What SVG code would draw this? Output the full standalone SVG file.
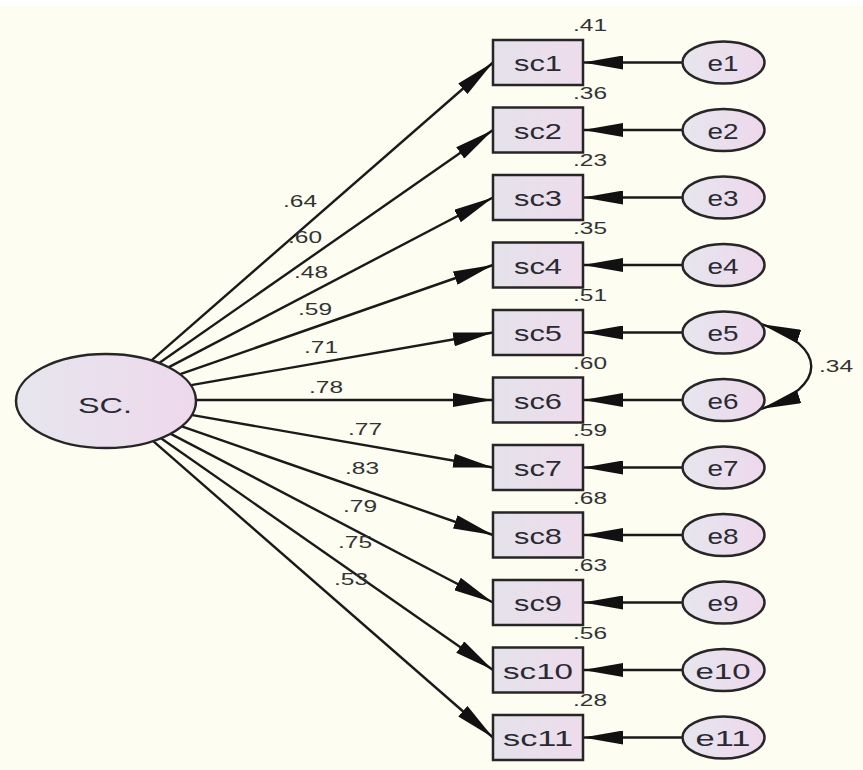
<svg xmlns="http://www.w3.org/2000/svg" width="863" height="770" viewBox="0 0 863 770">
<style>
.obs{stroke:#262626;stroke-width:2.5;fill:url(#gb)}
.lat{stroke:#262626;stroke-width:2.5;fill:url(#ge)}
.lbl{font-family:"Liberation Sans",Arial,sans-serif;font-size:22px;fill:#2a2a33;text-anchor:middle}
.num{font-family:"Liberation Sans",Arial,sans-serif;font-size:16px;fill:#333;text-anchor:middle}
.cn{stroke:#1a1a1a;stroke-width:2.4;fill:none}
</style>
<defs>
<linearGradient id="gb" x1="0" y1="0" x2="1" y2="0"><stop offset="0" stop-color="#e4e2ea"/><stop offset="1" stop-color="#eedcec"/></linearGradient>
<linearGradient id="ge" x1="0" y1="0" x2="1" y2="0"><stop offset="0" stop-color="#e6e6ee"/><stop offset="1" stop-color="#eed8ec"/></linearGradient>
<marker id="ah" viewBox="0 0 40 14" refX="40" refY="7" markerWidth="40" markerHeight="14" markerUnits="userSpaceOnUse" orient="auto-start-reverse"><path d="M0,0 L40,7 L0,14 z" fill="#111"/></marker>
</defs>
<rect width="863" height="770" fill="#fdfdf1"/>
<rect width="863" height="5" fill="#ffffff"/>
<g id="connectors">
<path class="cn" marker-end="url(#ah)" d="M151.5,360.3 L493,62.5"/>
<path class="cn" marker-end="url(#ah)" d="M159.2,362.9 L493,130"/>
<path class="cn" marker-end="url(#ah)" d="M168.9,367.1 L493,197.5"/>
<path class="cn" marker-end="url(#ah)" d="M180.3,374.1 L493,265"/>
<path class="cn" marker-end="url(#ah)" d="M191.2,385.1 L493,332.5"/>
<path class="cn" marker-end="url(#ah)" d="M196,400 L493,400"/>
<path class="cn" marker-end="url(#ah)" d="M191.2,414.9 L493,467.5"/>
<path class="cn" marker-end="url(#ah)" d="M180.3,425.9 L493,535"/>
<path class="cn" marker-end="url(#ah)" d="M168.9,432.9 L493,602.5"/>
<path class="cn" marker-end="url(#ah)" d="M159.2,437.1 L493,670"/>
<path class="cn" marker-end="url(#ah)" d="M151.5,439.7 L493,737.5"/>
<path class="cn" marker-end="url(#ah)" d="M682.5,62.5 L583,62.5"/>
<path class="cn" marker-end="url(#ah)" d="M682.5,130 L583,130"/>
<path class="cn" marker-end="url(#ah)" d="M682.5,197.5 L583,197.5"/>
<path class="cn" marker-end="url(#ah)" d="M682.5,265 L583,265"/>
<path class="cn" marker-end="url(#ah)" d="M682.5,332.5 L583,332.5"/>
<path class="cn" marker-end="url(#ah)" d="M682.5,400 L583,400"/>
<path class="cn" marker-end="url(#ah)" d="M682.5,467.5 L583,467.5"/>
<path class="cn" marker-end="url(#ah)" d="M682.5,535 L583,535"/>
<path class="cn" marker-end="url(#ah)" d="M682.5,602.5 L583,602.5"/>
<path class="cn" marker-end="url(#ah)" d="M682.5,670 L583,670"/>
<path class="cn" marker-end="url(#ah)" d="M682.5,737.5 L583,737.5"/>
<path class="cn" marker-start="url(#ah)" marker-end="url(#ah)" d="M761,324 C828,346 828,387 761,409"/>
<text class="num" x="300" y="207" textLength="34" lengthAdjust="spacingAndGlyphs">.64</text>
<text class="num" x="305" y="243" textLength="34" lengthAdjust="spacingAndGlyphs">.60</text>
<text class="num" x="311" y="278" textLength="34" lengthAdjust="spacingAndGlyphs">.48</text>
<text class="num" x="315" y="315" textLength="34" lengthAdjust="spacingAndGlyphs">.59</text>
<text class="num" x="321" y="353" textLength="34" lengthAdjust="spacingAndGlyphs">.71</text>
<text class="num" x="326" y="393" textLength="34" lengthAdjust="spacingAndGlyphs">.78</text>
<text class="num" x="365" y="435" textLength="34" lengthAdjust="spacingAndGlyphs">.77</text>
<text class="num" x="362" y="474" textLength="34" lengthAdjust="spacingAndGlyphs">.83</text>
<text class="num" x="360" y="512" textLength="34" lengthAdjust="spacingAndGlyphs">.79</text>
<text class="num" x="355" y="548" textLength="34" lengthAdjust="spacingAndGlyphs">.75</text>
<text class="num" x="351" y="585" textLength="34" lengthAdjust="spacingAndGlyphs">.53</text>
<text class="num" x="836" y="372" textLength="34" lengthAdjust="spacingAndGlyphs">.34</text>
</g>
<g id="SC"><ellipse class="lat" cx="106" cy="401" rx="90" ry="47"/><text class="lbl" x="105" y="413" textLength="54" lengthAdjust="spacingAndGlyphs">SC.</text></g>
<g id="sc1"><rect class="obs" x="493" y="40" width="90" height="45"/><text class="lbl" x="538" y="71" textLength="48" lengthAdjust="spacingAndGlyphs">sc1</text><text class="num" x="590" y="31" textLength="34" lengthAdjust="spacingAndGlyphs">.41</text></g>
<g id="sc2"><rect class="obs" x="493" y="107.5" width="90" height="45"/><text class="lbl" x="538" y="138.5" textLength="48" lengthAdjust="spacingAndGlyphs">sc2</text><text class="num" x="590" y="98.5" textLength="34" lengthAdjust="spacingAndGlyphs">.36</text></g>
<g id="sc3"><rect class="obs" x="493" y="175" width="90" height="45"/><text class="lbl" x="538" y="206" textLength="48" lengthAdjust="spacingAndGlyphs">sc3</text><text class="num" x="590" y="166" textLength="34" lengthAdjust="spacingAndGlyphs">.23</text></g>
<g id="sc4"><rect class="obs" x="493" y="242.5" width="90" height="45"/><text class="lbl" x="538" y="273.5" textLength="48" lengthAdjust="spacingAndGlyphs">sc4</text><text class="num" x="590" y="233.5" textLength="34" lengthAdjust="spacingAndGlyphs">.35</text></g>
<g id="sc5"><rect class="obs" x="493" y="310" width="90" height="45"/><text class="lbl" x="538" y="341" textLength="48" lengthAdjust="spacingAndGlyphs">sc5</text><text class="num" x="590" y="301" textLength="34" lengthAdjust="spacingAndGlyphs">.51</text></g>
<g id="sc6"><rect class="obs" x="493" y="377.5" width="90" height="45"/><text class="lbl" x="538" y="408.5" textLength="48" lengthAdjust="spacingAndGlyphs">sc6</text><text class="num" x="590" y="368.5" textLength="34" lengthAdjust="spacingAndGlyphs">.60</text></g>
<g id="sc7"><rect class="obs" x="493" y="445" width="90" height="45"/><text class="lbl" x="538" y="476" textLength="48" lengthAdjust="spacingAndGlyphs">sc7</text><text class="num" x="590" y="436" textLength="34" lengthAdjust="spacingAndGlyphs">.59</text></g>
<g id="sc8"><rect class="obs" x="493" y="512.5" width="90" height="45"/><text class="lbl" x="538" y="543.5" textLength="48" lengthAdjust="spacingAndGlyphs">sc8</text><text class="num" x="590" y="503.5" textLength="34" lengthAdjust="spacingAndGlyphs">.68</text></g>
<g id="sc9"><rect class="obs" x="493" y="580" width="90" height="45"/><text class="lbl" x="538" y="611" textLength="48" lengthAdjust="spacingAndGlyphs">sc9</text><text class="num" x="590" y="571" textLength="34" lengthAdjust="spacingAndGlyphs">.63</text></g>
<g id="sc10"><rect class="obs" x="493" y="647.5" width="90" height="45"/><text class="lbl" x="538" y="678.5" textLength="70" lengthAdjust="spacingAndGlyphs">sc10</text><text class="num" x="590" y="638.5" textLength="34" lengthAdjust="spacingAndGlyphs">.56</text></g>
<g id="sc11"><rect class="obs" x="493" y="715" width="90" height="45"/><text class="lbl" x="538" y="746" textLength="70" lengthAdjust="spacingAndGlyphs">sc11</text><text class="num" x="590" y="706" textLength="34" lengthAdjust="spacingAndGlyphs">.28</text></g>
<g id="e1"><ellipse class="lat" cx="723.5" cy="62.5" rx="41" ry="21"/><text class="lbl" x="723" y="71" textLength="31" lengthAdjust="spacingAndGlyphs">e1</text></g>
<g id="e2"><ellipse class="lat" cx="723.5" cy="130" rx="41" ry="21"/><text class="lbl" x="723" y="138.5" textLength="31" lengthAdjust="spacingAndGlyphs">e2</text></g>
<g id="e3"><ellipse class="lat" cx="723.5" cy="197.5" rx="41" ry="21"/><text class="lbl" x="723" y="206" textLength="31" lengthAdjust="spacingAndGlyphs">e3</text></g>
<g id="e4"><ellipse class="lat" cx="723.5" cy="265" rx="41" ry="21"/><text class="lbl" x="723" y="273.5" textLength="31" lengthAdjust="spacingAndGlyphs">e4</text></g>
<g id="e5"><ellipse class="lat" cx="723.5" cy="332.5" rx="41" ry="21"/><text class="lbl" x="723" y="341" textLength="31" lengthAdjust="spacingAndGlyphs">e5</text></g>
<g id="e6"><ellipse class="lat" cx="723.5" cy="400" rx="41" ry="21"/><text class="lbl" x="723" y="408.5" textLength="31" lengthAdjust="spacingAndGlyphs">e6</text></g>
<g id="e7"><ellipse class="lat" cx="723.5" cy="467.5" rx="41" ry="21"/><text class="lbl" x="723" y="476" textLength="31" lengthAdjust="spacingAndGlyphs">e7</text></g>
<g id="e8"><ellipse class="lat" cx="723.5" cy="535" rx="41" ry="21"/><text class="lbl" x="723" y="543.5" textLength="31" lengthAdjust="spacingAndGlyphs">e8</text></g>
<g id="e9"><ellipse class="lat" cx="723.5" cy="602.5" rx="41" ry="21"/><text class="lbl" x="723" y="611" textLength="31" lengthAdjust="spacingAndGlyphs">e9</text></g>
<g id="e10"><ellipse class="lat" cx="723.5" cy="670" rx="41" ry="21"/><text class="lbl" x="723" y="678.5" textLength="55" lengthAdjust="spacingAndGlyphs">e10</text></g>
<g id="e11"><ellipse class="lat" cx="723.5" cy="737.5" rx="41" ry="21"/><text class="lbl" x="723" y="746" textLength="55" lengthAdjust="spacingAndGlyphs">e11</text></g>
</svg>
